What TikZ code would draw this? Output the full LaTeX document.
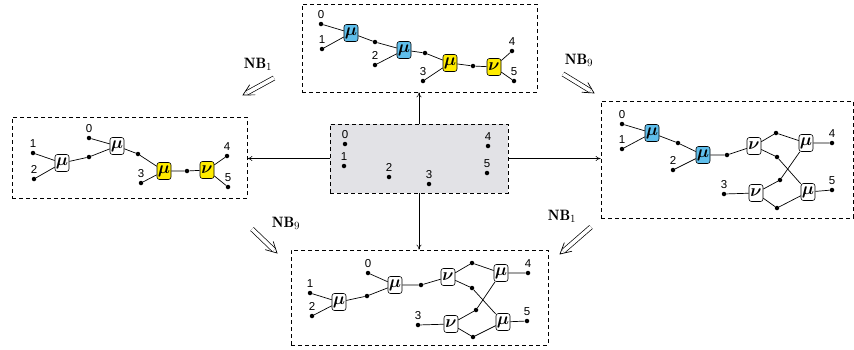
\documentclass[tikz,border=0pt]{standalone}
\usepackage{amsmath, amssymb}
\usepackage{bm}
\usepackage{fontspec}
\setsansfont{Liberation Sans}
\usepackage{tikz}
\usetikzlibrary{arrows.meta, positioning, calc}
\definecolor{opblue}{RGB}{95, 190, 235}
\definecolor{opyellow}{RGB}{255, 236, 0}
\definecolor{panelgray}{RGB}{226, 226, 230}

\tikzset{
    op/.style={draw, line width=0.6pt, rounded corners=2.5pt, minimum width=14pt, minimum height=17pt, inner sep=0pt, font=\fontsize{17}{17}\selectfont},
    bop/.style={op, fill=opblue},
    yop/.style={op, fill=opyellow},
    wop/.style={op, fill=white},
    pt/.style={circle, fill, inner sep=0pt, minimum size=4.5pt},
    lab/.style={font=\sffamily\fontsize{11.5}{11.5}\selectfont, inner sep=0pt, label distance=2.5pt},
    panel/.style={draw, line width=0.7pt, dash pattern=on 4pt off 3pt, inner sep=0pt},
    wire/.style={line width=0.7pt},
    move/.style={-{To[length=5pt, width=5pt]}, line width=0.5pt},
    shaft/.style={double, double distance=3.6pt, line width=0.7pt, shorten >=4.5pt},
    barb/.style={line width=0.7pt, line cap=round, line join=miter},
    nb/.style={font=\fontsize{15}{15}\selectfont, inner sep=0pt},
}
% double arrow with a wide open head, from #1 to #2
\newcommand{\nbarrow}[2]{%
    \draw[shaft] (#1) -- (#2);
    \draw[barb] ($(#2)!12pt!28:(#1)$) -- (#2) -- ($(#2)!12pt!-28:(#1)$);
}

\begin{document}
\begin{tikzpicture}[x=1pt, y=-1pt]
        \useasboundingbox (0,0) rectangle (854,349);

        % Starting configuration
        \begin{scope}
            \node[panel, fill=panelgray, minimum width=178pt, minimum height=69pt] (cbox) at (419,158.5) {};
            \node[pt, label={[lab]above:0}] (c0) at (345,144) {};
            \node[pt, label={[lab]above:1}] (c1) at (344,166) {};
            \node[pt, label={[lab]above:2}] (c2) at (389,177) {};
            \node[pt, label={[lab]above:3}] (c3) at (429,184) {};
            \node[pt, label={[lab]above:4}] (c4) at (488,146) {};
            \node[pt, label={[lab]above:5}] (c5) at (487,173) {};
        \end{scope}

        % Top panel
        \begin{scope}
            \node[panel, minimum width=235pt, minimum height=88pt] (ptop) at (419.5,48) {};
            \node[pt, label={[lab]above:0}] (t0) at (321,24) {};
            \node[pt, label={[lab]above:1}] (t1) at (322,49) {};
            \node[pt, label={[lab]above:2}] (t2) at (375,65) {};
            \node[pt, label={[lab]above:3}] (t3) at (423,81) {};
            \node[pt, label={[lab]above:4}] (t4) at (512,51) {};
            \node[pt, label={[lab]above:5}] (t5) at (514,81) {};
            \node[bop] (tm1) at (351,33) {$\bm{\mu}$};
            \node[bop] (tm2) at (404,50) {$\bm{\mu}$};
            \node[yop] (tm3) at (450,63) {$\bm{\mu}$};
            \node[yop] (tn) at (494,67) {$\bm{\nu}$};
            \node[pt] (ta) at (375,42) {};
            \node[pt] (tb) at (425,53) {};
            \node[pt] (tc) at (473,66) {};
            \draw[wire] (t0) -- (tm1) (t1) -- (tm1);
            \draw[wire] (tm1) -- (ta) -- (tm2) (t2) -- (tm2);
            \draw[wire] (tm2) -- (tb) -- (tm3) (t3) -- (tm3);
            \draw[wire] (tm3) -- (tc) -- (tn) (tn) -- (t4) (tn) -- (t5);
        \end{scope}

        % Left panel
        \begin{scope}
            \node[panel, minimum width=235pt, minimum height=81pt] (pleft) at (129.5,157.5) {};
            \node[pt, label={[lab]above:0}] (l0) at (89,138) {};
            \node[pt, label={[lab]above:1}] (l1) at (33,153) {};
            \node[pt, label={[lab]above:2}] (l2) at (34,179) {};
            \node[pt, label={[lab]above:3}] (l3) at (141,183) {};
            \node[pt, label={[lab]above:4}] (l4) at (227,156) {};
            \node[pt, label={[lab]above:5}] (l5) at (228,187) {};
            \node[wop] (lm1) at (62,163) {$\bm{\mu}$};
            \node[wop] (lm2) at (117,146) {$\bm{\mu}$};
            \node[yop] (lm3) at (164,171) {$\bm{\mu}$};
            \node[yop] (ln) at (207,170) {$\bm{\nu}$};
            \node[pt] (la) at (89,157) {};
            \node[pt] (lb) at (138,154) {};
            \node[pt] (lc) at (187,171) {};
            \draw[wire] (l1) -- (lm1) (l2) -- (lm1);
            \draw[wire] (lm1) -- (la) -- (lm2) (l0) -- (lm2);
            \draw[wire] (lm2) -- (lb) -- (lm3) (l3) -- (lm3);
            \draw[wire] (lm3) -- (lc) -- (ln) (ln) -- (l4) (ln) -- (l5);
        \end{scope}

        % Right panel
        \begin{scope}
            \node[panel, minimum width=252pt, minimum height=117pt] (pright) at (727,159.5) {};
            \node[pt, label={[lab]above:0}] (r0) at (622,124) {};
            \node[pt, label={[lab]above:1}] (r1) at (622,149) {};
            \node[pt, label={[lab]above:2}] (r2) at (673,170) {};
            \node[pt, label={[lab]above:3}] (r3) at (724,194) {};
            \node[pt, label={[lab]above:4}] (r4) at (832,143) {};
            \node[pt, label={[lab]above:5}] (r5) at (832,190) {};
            \node[bop] (rm1) at (652,133) {$\bm{\mu}$};
            \node[bop] (rm2) at (703,155) {$\bm{\mu}$};
            \node[wop] (rn1) at (754,146) {$\bm{\nu}$};
            \node[wop] (rn2) at (756,193) {$\bm{\nu}$};
            \node[wop] (rm3) at (806,143) {$\bm{\mu}$};
            \node[wop] (rm4) at (808,192) {$\bm{\mu}$};
            \node[pt] (ra) at (678,143) {};
            \node[pt] (rb) at (727,155) {};
            \node[pt] (rc) at (776,133) {};
            \node[pt] (rd) at (777,157) {};
            \node[pt] (re) at (780,180) {};
            \node[pt] (rf) at (777,208) {};
            \draw[wire] (r0) -- (rm1) (r1) -- (rm1);
            \draw[wire] (rm1) -- (ra) -- (rm2) (r2) -- (rm2);
            \draw[wire] (rm2) -- (rb) -- (rn1) (r3) -- (rn2);
            \draw[wire] (rn1) -- (rc) -- (rm3) (rn1) -- (rd) -- (rm4);
            \draw[wire] (rn2) -- (re) -- (rm3) (rn2) -- (rf) -- (rm4);
            \draw[wire] (rm3) -- (r4) (rm4) -- (r5);
        \end{scope}

        % Bottom panel
        \begin{scope}
            \node[panel, minimum width=257pt, minimum height=95pt] (pbot) at (419.5,297.5) {};
            \node[pt, label={[lab]above:0}] (b0) at (368,273) {};
            \node[pt, label={[lab]above:1}] (b1) at (310,293) {};
            \node[pt, label={[lab]above:2}] (b2) at (312,316) {};
            \node[pt, label={[lab]above:3}] (b3) at (418,325) {};
            \node[pt, label={[lab]above:4}] (b4) at (528,273) {};
            \node[pt, label={[lab]above:5}] (b5) at (527,321) {};
            \node[wop] (bm1) at (339,302) {$\bm{\mu}$};
            \node[wop] (bm2) at (395,285) {$\bm{\mu}$};
            \node[wop] (bn1) at (448,277) {$\bm{\nu}$};
            \node[wop] (bn2) at (451,324) {$\bm{\nu}$};
            \node[wop] (bm3) at (501,273) {$\bm{\mu}$};
            \node[wop] (bm4) at (503,322) {$\bm{\mu}$};
            \node[pt] (ba) at (367,296) {};
            \node[pt] (bb) at (421,285) {};
            \node[pt] (bc) at (472,263) {};
            \node[pt] (bd) at (472,288) {};
            \node[pt] (be) at (476,310) {};
            \node[pt] (bf) at (473,337) {};
            \draw[wire] (b1) -- (bm1) (b2) -- (bm1);
            \draw[wire] (bm1) -- (ba) -- (bm2) (b0) -- (bm2);
            \draw[wire] (bm2) -- (bb) -- (bn1) (b3) -- (bn2);
            \draw[wire] (bn1) -- (bc) -- (bm3) (bn1) -- (bd) -- (bm4);
            \draw[wire] (bn2) -- (be) -- (bm3) (bn2) -- (bf) -- (bm4);
            \draw[wire] (bm3) -- (b4) (bm4) -- (b5);
        \end{scope}

        % Arrows out of the start
        \draw[move] (cbox.north) -- (cbox.north |- ptop.south);
        \draw[move] (cbox.west) -- (cbox.west -| pleft.east);
        \draw[move] (cbox.east) -- (cbox.east -| pright.west);
        \draw[move] (cbox.south) -- (cbox.south |- pbot.north);

        % Rewrite steps
        \node[nb] (nbtl) at (258,64) {$\mathbf{NB}_1$};
        \node[nb] (nbtr) at (579,60) {$\mathbf{NB}_9$};
        \node[nb] (nbbl) at (286,223) {$\mathbf{NB}_9$};
        \node[nb] (nbbr) at (562,216) {$\mathbf{NB}_1$};
        \coordinate (tl-s) at (274,78);  \coordinate (tl-e) at (243,95);
        \coordinate (tr-s) at (563,74);  \coordinate (tr-e) at (594,93);
        \coordinate (bl-s) at (252,229); \coordinate (bl-e) at (277,253);
        \coordinate (br-s) at (591,227); \coordinate (br-e) at (560,254);
        \nbarrow{tl-s}{tl-e}
        \nbarrow{tr-s}{tr-e}
        \nbarrow{bl-s}{bl-e}
        \nbarrow{br-s}{br-e}
    \end{tikzpicture}
\end{document}
